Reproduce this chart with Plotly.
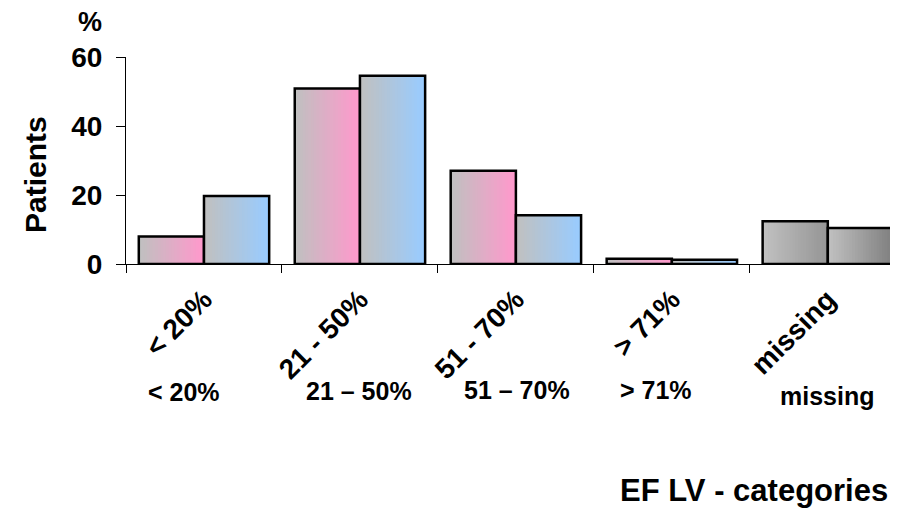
import plotly.graph_objects as go

# ---- data ----
categories = ["< 20%", "21 - 50%", "51 - 70%", "> 71%", "missing"]
sub_labels = ["< 20%", "21 – 50%", "51 – 70%", "> 71%", "missing"]
series_a = [8.0, 50.9, 27.0, 1.5, 12.4]
series_b = [19.7, 54.6, 14.1, 1.2, 10.4]
y_ticks = [0, 20, 40, 60]

# ---- styling ----
PAGE_OFF = 8  # browser default body margin
W, H = 898 - PAGE_OFF, 510 - PAGE_OFF
ML, MR, MT, MB = 126 - PAGE_OFF, 0, 57 - PAGE_OFF, 246
FONT = "Liberation Sans, Arial, sans-serif"
GRAY = (192, 192, 192)
PINK = (255, 153, 204)
BLUE = (153, 204, 255)
DARK_A = (150, 150, 150)
DARK_B = (128, 128, 128)
BAR_W = 0.418
N = 24


def mix(c1, c2, t):
    return "rgb(%d,%d,%d)" % tuple(round(a + (b - a) * t) for a, b in zip(c1, c2))


fig = go.Figure()


def add_gradient(values, offset, end_colors):
    d = BAR_W / N
    for i in range(N):
        t = i / (N - 1)
        cols = [mix(GRAY, end_colors[k], t) for k in range(len(categories))]
        fig.add_trace(go.Bar(
            x=categories, y=values,
            width=BAR_W - i * d, offset=offset + i * d,
            marker=dict(color=cols, line=dict(width=0)),
            showlegend=False, hoverinfo="skip"))
    fig.add_trace(go.Bar(
        x=categories, y=values, width=BAR_W, offset=offset,
        marker=dict(color="rgba(0,0,0,0)", line=dict(color="black", width=2.5)),
        showlegend=False))


add_gradient(series_a, -BAR_W, [PINK, PINK, PINK, PINK, DARK_A])
add_gradient(series_b, 0.0, [BLUE, BLUE, BLUE, BLUE, DARK_B])

pw = W - ML - MR
ph = H - MT - MB


def px(x):  # page pixel -> paper
    return (x - PAGE_OFF - ML) / pw


def py(y):
    return (H - MB - (y - PAGE_OFF)) / ph


bold = dict(family=FONT, color="black", weight="bold")


def note(text, x, y, size, angle=0):
    return dict(text=text, x=px(x), y=py(y), xref="paper", yref="paper",
                xanchor="center", yanchor="middle", showarrow=False,
                textangle=angle, font=dict(size=size, **bold))


ann = [
    note("%", 90, 22, 27),
    note("Patients", 35, 175, 30, -90),
    note("EF LV - categories", 754, 490, 31),
]
sub_pos = [(184, 392), (359, 391), (517, 390), (656, 390), (827, 396)]
for lab, (sx, sy) in zip(sub_labels, sub_pos):
    ann.append(note(lab, sx, sy, 25))

fig.update_layout(
    width=W, height=H,
    margin=dict(l=ML, r=MR, t=MT, b=MB, pad=0),
    paper_bgcolor="white", plot_bgcolor="white",
    barmode="overlay",
    showlegend=False,
    annotations=ann,
    xaxis=dict(
        type="category", range=[-0.5, 4.45],
        showline=True, linecolor="black", linewidth=1,
        ticks="outside", tickson="boundaries", ticklen=8, tickcolor="black",
        tickangle=-45, tickfont=dict(size=28, **bold), ticklabelstandoff=7,
        showgrid=False, zeroline=False, automargin=False,
    ),
    yaxis=dict(
        range=[0, 60], tickvals=y_ticks,
        showline=True, linecolor="black", linewidth=1,
        ticks="outside", ticklen=9, tickcolor="black",
        tickfont=dict(size=28, **bold), ticklabelstandoff=8,
        showgrid=False, zeroline=False, automargin=False,
    ),
)

fig.write_html("out.html")
